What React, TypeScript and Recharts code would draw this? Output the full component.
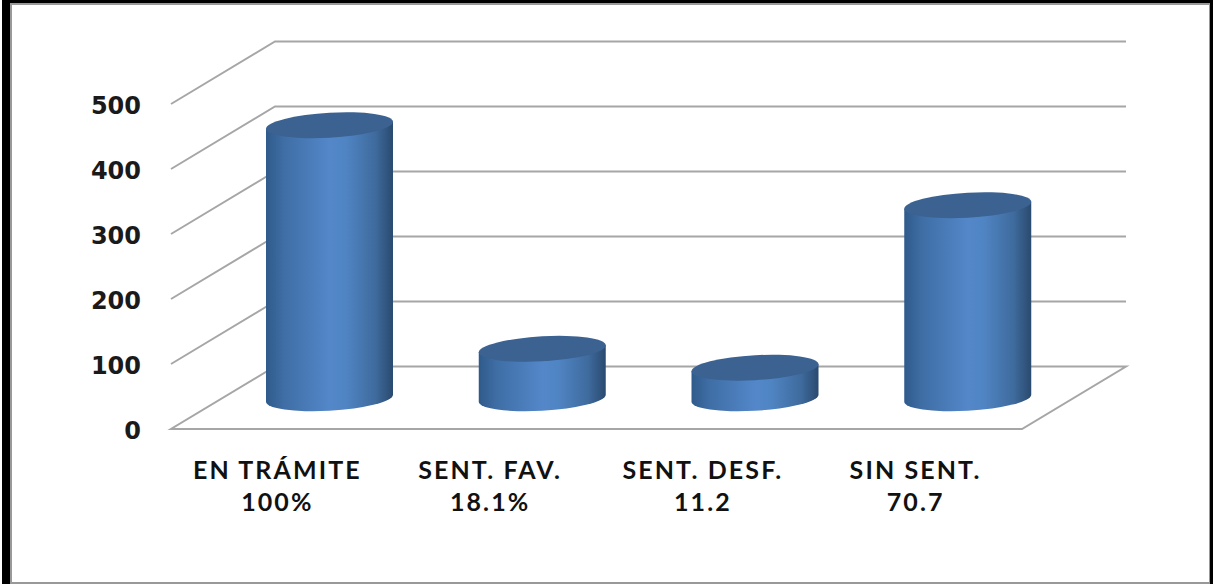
import { BarChart, Bar, XAxis, YAxis, CartesianGrid } from 'recharts';

const categories = ['EN TRÁMITE', 'SENT. FAV.', 'SENT. DESF.', 'SIN SENT.'];
const percentLabels = ['100%', '18.1%', '11.2', '70.7'];
const values = [420, 76, 47, 297];
const yTicks = [0, 100, 200, 300, 400, 500];

const data = categories.map((name, i) => ({ name, percent: percentLabels[i], value: values[i] }));

const WIDTH = 1213;
const HEIGHT = 584;
const MARGIN = { top: 104, right: 191, bottom: 0, left: 0 };
const Y_AXIS_WIDTH = 171;
const X_AXIS_HEIGHT = 155;
const PLOT_BOTTOM = HEIGHT - X_AXIS_HEIGHT;

// depth of the fake 3d box
const DEPTH_X = 104;
const DEPTH_Y = -62.5;
const GRID_COLOR = '#a6a6a6';
const FONT = 'Lato, sans-serif';

function WallLine(props: any) {
  const { x1, x2, y1 } = props;
  const back = y1 + DEPTH_Y;
  const isFloor = y1 >= PLOT_BOTTOM - 1;
  const d = isFloor
    ? `M${x1} ${y1} L${x2} ${y1} L${x2 + DEPTH_X} ${back} L${x1 + DEPTH_X} ${back} Z`
    : `M${x1} ${y1} L${x1 + DEPTH_X} ${back} L${x2 + DEPTH_X} ${back}`;
  return <path key={props.index} d={d} fill="none" stroke={GRID_COLOR} strokeWidth={2} />;
}

function CylinderBar(props: any) {
  const { x, y, width, height } = props;
  const a = width / 2;
  const b = 12.5;
  const cx = x + a + DEPTH_X / 2;
  const top = y + DEPTH_Y / 2 + 0.5;
  const base = y + height + DEPTH_Y / 2 + 0.5;
  return (
    <g transform={`matrix(1 -0.055 0 1 ${cx} 0)`}>
      <path
        d={`M${-a} ${top} L${-a} ${base} A${a} ${b} 0 0 0 ${a} ${base} L${a} ${top} Z`}
        fill="url(#cylinderFill)"
      />
      <ellipse cx={0} cy={top} rx={a} ry={b} fill="#3b6291" />
    </g>
  );
}

function CategoryTick(props: any) {
  const { x, y, index } = props;
  return (
    <text
      x={x}
      y={y}
      textAnchor="middle"
      fontFamily={FONT}
      fontWeight={700}
      fontSize={25}
      letterSpacing={2.1}
      fill="#111"
    >
      <tspan x={x} dy={0}>{categories[index]}</tspan>
      <tspan x={x} dy={32}>{percentLabels[index]}</tspan>
    </text>
  );
}

function ValueTick(props: any) {
  const { x, y, payload } = props;
  return (
    <text
      x={x}
      y={y + 10}
      textAnchor="end"
      fontFamily="'DejaVu Sans', sans-serif"
      fontWeight={700}
      fontSize={24}
      fill="#1a1a1a"
    >
      {payload.value}
    </text>
  );
}

export default function App() {
  return (
    <div style={{ position: 'absolute', left: 0, top: 0, width: WIDTH, height: HEIGHT, background: '#fff', overflow: 'hidden' }}>
      <div
        style={{
          position: 'absolute',
          left: 2,
          top: 0,
          right: 0,
          bottom: 0,
          borderLeft: '8px solid #000',
          borderTop: '3px solid #000',
          borderRight: '3px solid #000',
          boxShadow: 'inset 2px 2px 0 #999, inset -1px -2px 0 #999',
        }}
      />
      <div style={{ position: 'absolute', left: 0, top: 0 }}>
        <BarChart width={WIDTH} height={HEIGHT} data={data} margin={MARGIN}>
          <defs>
            <linearGradient id="cylinderFill" x1="0" y1="0" x2="1" y2="0">
              <stop offset="0" stopColor="#2f5a8b" />
              <stop offset="0.14" stopColor="#3f6ea5" />
              <stop offset="0.5" stopColor="#5387c9" />
              <stop offset="0.62" stopColor="#5085c4" />
              <stop offset="0.86" stopColor="#3f6b9e" />
              <stop offset="1" stopColor="#2a4a6f" />
            </linearGradient>
          </defs>
          <CartesianGrid vertical={false} horizontal={WallLine} />
          <XAxis
            dataKey="name"
            height={X_AXIS_HEIGHT}
            axisLine={false}
            tickLine={false}
            tickMargin={44}
            interval={0}
            tick={CategoryTick}
          />
          <YAxis
            width={Y_AXIS_WIDTH}
            domain={[0, 500]}
            ticks={yTicks}
            axisLine={false}
            tickLine={false}
            tickMargin={24}
            tick={ValueTick}
          />
          <Bar dataKey="value" barSize={127} shape={CylinderBar} isAnimationActive={false} />
        </BarChart>
      </div>
    </div>
  );
}
